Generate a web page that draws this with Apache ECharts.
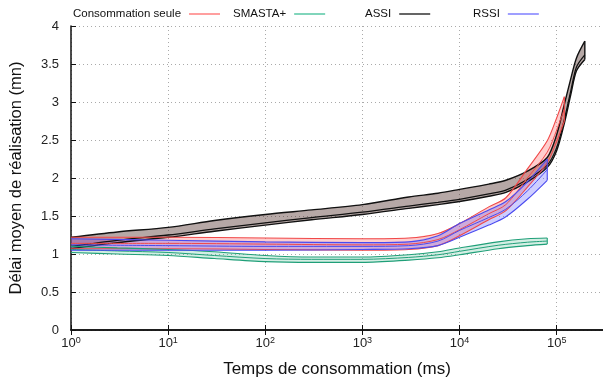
<!DOCTYPE html>
<html>
<head>
<meta charset="utf-8">
<script src="https://cdn.jsdelivr.net/npm/echarts@6/dist/echarts.min.js"></script>
<style>html,body{margin:0;padding:0;background:#fff}#c{width:603px;height:383px}</style>
</head>
<body>
<div id="c"></div>
<script>
// ---- data ----
const seriesNames = ['Consommation seule', 'SMASTA+', 'ASSI', 'RSSI'];
const yTicks = [0, 0.5, 1, 1.5, 2, 2.5, 3, 3.5, 4];

const assiT    = [1, 3, 10, 30, 100, 300, 1000, 3000, 6000, 10000, 20000, 30000, 50000, 80000, 100000, 120000, 140000, 160000, 195000];
const assiLow  = [1.07, 1.15, 1.22, 1.30, 1.38, 1.45, 1.52, 1.60, 1.65, 1.69, 1.76, 1.81, 1.95, 2.14, 2.36, 2.72, 3.10, 3.41, 3.56];
const assiMid  = [1.10, 1.18, 1.25, 1.33, 1.41, 1.48, 1.55, 1.63, 1.68, 1.72, 1.79, 1.84, 1.98, 2.17, 2.40, 2.77, 3.15, 3.46, 3.62];
const assiHigh = [1.22, 1.29, 1.35, 1.44, 1.52, 1.58, 1.65, 1.75, 1.80, 1.85, 1.92, 1.97, 2.09, 2.27, 2.57, 2.97, 3.31, 3.58, 3.80];

const consT    = [1, 10, 100, 1000, 3000, 6000, 10000, 20000, 30000, 50000, 80000, 100000, 120000];
const consLow  = [1.07, 1.07, 1.06, 1.05, 1.06, 1.11, 1.24, 1.45, 1.57, 1.88, 2.20, 2.48, 2.75];
const consMid  = [1.14, 1.14, 1.13, 1.12, 1.13, 1.19, 1.32, 1.53, 1.65, 2.00, 2.34, 2.63, 2.91];
const consHigh = [1.22, 1.22, 1.21, 1.20, 1.21, 1.27, 1.40, 1.62, 1.74, 2.12, 2.49, 2.79, 3.07];

const rssiT    = [1, 10, 100, 1000, 3000, 6000, 10000, 20000, 30000, 50000, 80000];
const rssiLow  = [1.05, 1.05, 1.05, 1.06, 1.07, 1.11, 1.22, 1.38, 1.49, 1.72, 1.97];
const rssiMid  = [1.12, 1.11, 1.10, 1.10, 1.11, 1.17, 1.31, 1.48, 1.59, 1.83, 2.11];
const rssiHigh = [1.20, 1.18, 1.16, 1.15, 1.16, 1.24, 1.40, 1.58, 1.69, 1.95, 2.25];

const smT    = [1, 3, 10, 30, 100, 300, 1000, 3000, 6000, 10000, 25000, 50000, 80000];
const smLow  = [1.02, 1.00, 0.98, 0.94, 0.90, 0.89, 0.89, 0.92, 0.95, 0.99, 1.07, 1.11, 1.13];
const smMid  = [1.06, 1.04, 1.02, 0.98, 0.94, 0.93, 0.93, 0.955, 0.99, 1.035, 1.115, 1.155, 1.17];
const smHigh = [1.10, 1.08, 1.06, 1.03, 0.98, 0.96, 0.96, 0.99, 1.03, 1.08, 1.16, 1.20, 1.21];

// ---- build series ----
const SMOOTH = 0.3;
function band(name, t, lo, mid, hi, lineColor, fillColor, lw) {
  const pairs = (arr) => t.map((x, i) => [x, arr[i]]);
  const n = t.length - 1;
  const lineCommon = { type: 'line', showSymbol: false, symbol: 'none', smooth: SMOOTH, silent: true, animation: false };
  const fill = {
    type: 'custom', name: name + ' zone', silent: true, animation: false, clip: true,
    data: [[t[0], lo[0]]],
    renderItem: function (params, api) {
      const up = t.map((x, i) => api.coord([x, hi[i]]));
      const dn = t.map((x, i) => api.coord([x, lo[i]])).reverse();
      return {
        type: 'polygon', shape: { points: up.concat(dn) },
        style: { fill: fillColor, stroke: 'none' }
      };
    }
  };
  return [
    fill,
    Object.assign({}, lineCommon, { name: name + ' bas', data: pairs(lo), lineStyle: { color: lineColor, width: lw }, itemStyle: { color: lineColor } }),
    Object.assign({}, lineCommon, { name: name, data: pairs(hi), lineStyle: { color: lineColor, width: lw }, itemStyle: { color: lineColor } }),
    Object.assign({}, lineCommon, { name: name + ' moy', data: pairs(mid), lineStyle: { color: lineColor, width: lw * 0.9 }, itemStyle: { color: lineColor } }),
    Object.assign({}, lineCommon, { name: name + ' fin', smooth: false, data: [[t[n], lo[n]], [t[n], hi[n]]], lineStyle: { color: lineColor, width: lw }, itemStyle: { color: lineColor } })
  ];
}

const series = [].concat(
  band('ASSI', assiT, assiLow, assiMid, assiHigh, '#111111', 'rgba(72,38,32,0.40)', 1.4),
  band('Consommation seule', consT, consLow, consMid, consHigh, '#f04848', 'rgba(255,90,90,0.30)', 1.1),
  band('SMASTA+', smT, smLow, smMid, smHigh, '#1f9f78', 'rgba(40,170,120,0.20)', 1.1),
  band('RSSI', rssiT, rssiLow, rssiMid, rssiHigh, '#4a4af0', 'rgba(80,80,255,0.28)', 1.1)
);

const legendLeft = [68, 228, 360, 468];
const legendColors = ['#ff6b6b', '#3dbf96', '#111111', '#6b6bff'];
const legends = seriesNames.map((n, i) => ({
  data: [{ name: n, itemStyle: { color: legendColors[i] } }],
  left: legendLeft[i], top: 3, align: 'right', icon: 'rect',
  itemWidth: 31, itemHeight: 1.3, itemGap: 0, selectedMode: false,
  textStyle: { fontFamily: 'Liberation Sans', fontSize: 11.5, color: '#111', padding: [0, 3, 0, 0] }
}));

const chart = echarts.init(document.getElementById('c'), null, { renderer: 'canvas' });
chart.setOption({
  animation: false,
  backgroundColor: '#fff',
  legend: legends,
  grid: { left: 67, top: 26, width: 543, height: 310, containLabel: false },
  xAxis: [{
    type: 'log', logBase: 10, min: 1, max: 300000, interval: 1,
    name: 'Temps de consommation (ms)', nameLocation: 'middle', nameGap: 31,
    nameTextStyle: { fontFamily: 'Liberation Sans', fontSize: 17, color: '#111' },
    axisLine: { show: true, onZero: false, lineStyle: { color: '#111', width: 1.5 } },
    axisTick: { show: true, inside: true, length: 5, lineStyle: { color: '#111' } },
    splitLine: { show: true, lineStyle: { color: '#aaa', type: [1, 3], width: 1 } },
    axisLabel: {
      fontFamily: 'Liberation Sans', color: '#222', margin: 6, showMaxLabel: false,
      formatter: (v) => '{b|10}{s|' + Math.round(Math.log10(v)) + '}',
      rich: { b: { fontSize: 13, fontFamily: 'Liberation Sans', color: '#222', verticalAlign: 'bottom' }, s: { fontSize: 9, fontFamily: 'Liberation Sans', color: '#222', verticalAlign: 'top', padding: [0, 0, 5, 0] } }
    }
  }, {
    type: 'log', logBase: 10, min: 1, max: 300000, interval: 1, position: 'top',
    axisLine: { show: true, lineStyle: { color: '#111', width: 1.5 } },
    axisTick: { show: true, inside: true, length: 5, lineStyle: { color: '#111' } },
    axisLabel: { show: false }, splitLine: { show: false }
  }],
  yAxis: {
    type: 'value', min: yTicks[0], max: yTicks[yTicks.length - 1], interval: 0.5,
    name: 'Délai moyen de réalisation (mn)', nameLocation: 'middle', nameGap: 46, nameRotate: 90,
    nameTextStyle: { fontFamily: 'Liberation Sans', fontSize: 16.5, color: '#111' },
    axisLine: { show: true, lineStyle: { color: '#111', width: 1.5 } },
    axisTick: { show: true, inside: true, length: 5, lineStyle: { color: '#111' } },
    splitLine: { show: true, lineStyle: { color: '#aaa', type: [1, 3], width: 1 } },
    axisLabel: { fontFamily: 'Liberation Sans', fontSize: 13, color: '#222', margin: 12 }
  },
  series: series
});
</script>
</body>
</html>
